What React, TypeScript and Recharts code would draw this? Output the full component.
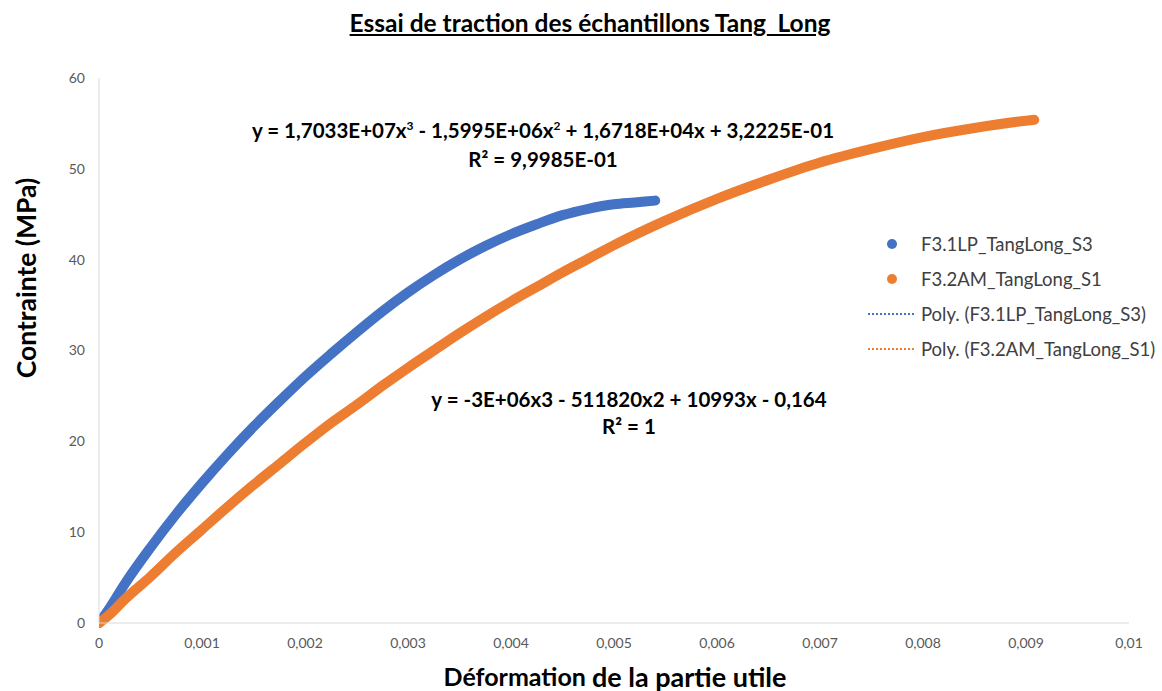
import React from 'react';
import { LineChart, Line, XAxis, YAxis, Label } from 'recharts';

const BLUE = '#4472C4';
const ORANGE = '#ED7D31';

// Déformation / Contrainte
const blueX = [0, 0.0001, 0.00025, 0.0005, 0.00075, 0.001, 0.00125, 0.0015, 0.00175, 0.002, 0.00225, 0.0025, 0.00275, 0.003, 0.00325, 0.0035, 0.00375, 0.004, 0.00425, 0.0045, 0.00475, 0.005, 0.0052, 0.0054];
const blueY = [0, 1.6, 4.3, 8.3, 12.0, 15.4, 18.6, 21.6, 24.4, 27.1, 29.6, 32.0, 34.3, 36.4, 38.3, 40.0, 41.5, 42.8, 43.9, 44.9, 45.6, 46.1, 46.3, 46.5];

const orangeX = [0, 0.0001, 0.00025, 0.0005, 0.00075, 0.001, 0.00125, 0.0015, 0.00175, 0.002, 0.00225, 0.0025, 0.00275, 0.003, 0.00325, 0.0035, 0.00375, 0.004, 0.00425, 0.0045, 0.00475, 0.005, 0.0055, 0.006, 0.0065, 0.007, 0.0075, 0.008, 0.0085, 0.009, 0.00908];
const orangeY = [0, 0.9, 2.6, 5.1, 7.8, 10.3, 12.8, 15.2, 17.5, 19.8, 22.0, 24.0, 26.1, 28.1, 30.0, 31.9, 33.7, 35.4, 37.0, 38.6, 40.1, 41.6, 44.3, 46.7, 48.8, 50.7, 52.2, 53.5, 54.5, 55.3, 55.4];

const xTicks = [0, 0.001, 0.002, 0.003, 0.004, 0.005, 0.006, 0.007, 0.008, 0.009, 0.01];
const yTicks = [0, 10, 20, 30, 40, 50, 60];

const seriesNames = ['F3.1LP_TangLong_S3', 'F3.2AM_TangLong_S1'];
const trendNames = ['Poly. (F3.1LP_TangLong_S3)', 'Poly. (F3.2AM_TangLong_S1)'];

const title = 'Essai de traction des échantillons Tang_Long';
const eq1 = ['y = 1,7033E+07x', '3', ' - 1,5995E+06x', '2', ' + 1,6718E+04x + 3,2225E-01'];
const r1 = 'R² = 9,9985E-01';
const eq2 = 'y = -3E+06x3 - 511820x2 + 10993x - 0,164';
const r2 = 'R² = 1';

const blueData = blueX.map((x, i) => ({ x, y: blueY[i] }));
const orangeData = orangeX.map((x, i) => ({ x, y: orangeY[i] }));

const FONT = 'Lato, "Open Sans", sans-serif';
const fmt = (v: number) => String(v).replace('.', ',');

const YTitle = () => (
  <text x={26} y={278} transform={`rotate(-90, 26, 278)`} textAnchor="middle" dominantBaseline="central"
    style={{ fontFamily: FONT, fontWeight: 700, fontSize: 26.5, fill: '#000' }}>
    Contrainte (MPa)
  </text>
);

const XTitle = () => (
  <text x={615} y={676} textAnchor="middle" dominantBaseline="central" style={{ fontFamily: FONT, fontWeight: 700, fill: '#000' }}>
    <tspan fontSize={25}>Déformation </tspan>
    <tspan fontSize={27}>de la partie utile</tspan>
  </text>
);

export default function App() {
  const sup: React.CSSProperties = { fontSize: 12, verticalAlign: 'super', lineHeight: 0 };
  return (
    <div style={{ position: 'absolute', left: 0, top: 0, width: 1162, height: 691, background: '#fff', fontFamily: FONT }}>
      <LineChart width={1162} height={691} margin={{ top: 78, right: 33, bottom: 0, left: 0 }}>
        <XAxis
          type="number"
          dataKey="x"
          domain={[0, 0.01]}
          ticks={xTicks}
          tickFormatter={fmt}
          allowDataOverflow
          height={68}
          tickLine={false}
          tickMargin={9}
          axisLine={{ stroke: '#D9D9D9', strokeWidth: 1 }}
          tick={{ fill: '#595959', fontSize: 14, fontFamily: FONT }}
        >
          <Label content={<XTitle />} />
        </XAxis>
        <YAxis
          type="number"
          dataKey="y"
          domain={[0, 60]}
          ticks={yTicks}
          width={99}
          tickLine={false}
          tickMargin={8}
          axisLine={{ stroke: '#D9D9D9', strokeWidth: 1 }}
          tick={{ fill: '#595959', fontSize: 14, fontFamily: FONT }}
        >
          <Label content={<YTitle />} />
        </YAxis>
        <Line data={blueData} dataKey="y" name={seriesNames[0]} type="monotone" stroke={BLUE} strokeWidth={10}
          strokeLinecap="round" strokeLinejoin="round" dot={false} activeDot={false} isAnimationActive={false} />
        <Line data={orangeData} dataKey="y" name={seriesNames[1]} type="monotone" stroke={ORANGE} strokeWidth={10}
          strokeLinecap="round" strokeLinejoin="round" dot={false} activeDot={false} isAnimationActive={false} />
      </LineChart>

      <div style={{ position: 'absolute', left: 0, width: 1180, top: 7, textAlign: 'center', fontSize: 24.5, fontWeight: 700, textDecoration: 'underline', color: '#000', lineHeight: '32px' }}>
        {title}
      </div>

      <div style={{ position: 'absolute', left: 243, width: 600, top: 116, textAlign: 'center', fontSize: 20.5, fontWeight: 700, color: '#000', lineHeight: '29px', whiteSpace: 'nowrap' }}>
        <div>{eq1[0]}<span style={sup}>{eq1[1]}</span>{eq1[2]}<span style={sup}>{eq1[3]}</span>{eq1[4]}</div>
        <div>{r1}</div>
      </div>

      <div style={{ position: 'absolute', left: 329, width: 600, top: 386, textAlign: 'center', fontSize: 20.5, fontWeight: 700, color: '#000', lineHeight: '27px', whiteSpace: 'nowrap' }}>
        <div>{eq2}</div>
        <div>{r2}</div>
      </div>

      <div style={{ position: 'absolute', left: 868, top: 226, fontSize: 18.5, color: '#404040' }}>
        {[0, 1].map((i) => (
          <div key={i} style={{ display: 'flex', alignItems: 'center', height: 35 }}>
            <div style={{ width: 48, display: 'flex', justifyContent: 'center' }}>
              <div style={{ width: 10, height: 10, borderRadius: 5, background: i === 0 ? BLUE : ORANGE }} />
            </div>
            <span style={{ marginLeft: 5 }}>{seriesNames[i]}</span>
          </div>
        ))}
        {[0, 1].map((i) => (
          <div key={'t' + i} style={{ display: 'flex', alignItems: 'center', height: 35 }}>
            <div style={{ width: 46, borderTop: `2px dotted ${i === 0 ? BLUE : ORANGE}` }} />
            <span style={{ marginLeft: 7 }}>{trendNames[i]}</span>
          </div>
        ))}
      </div>
    </div>
  );
}
